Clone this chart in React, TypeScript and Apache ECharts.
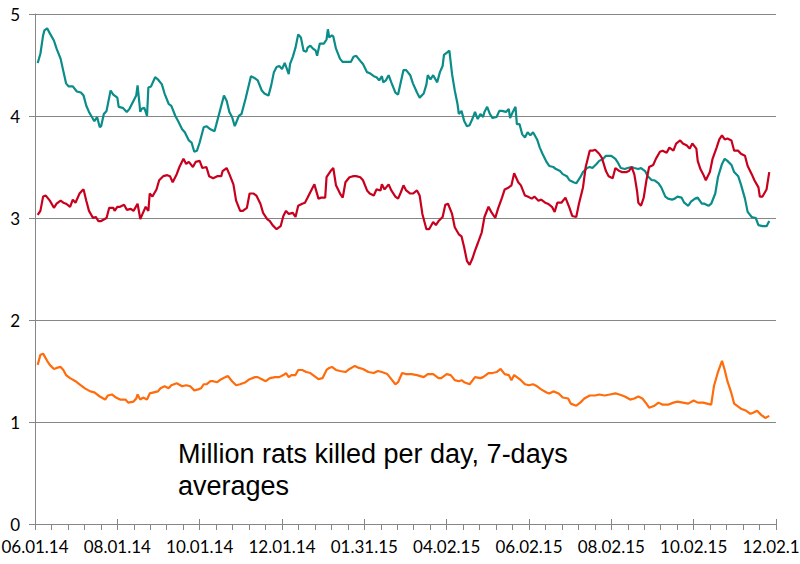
import React, { useEffect, useRef } from 'react';
import * as echarts from 'echarts';

// x axis: days since 06.01.14, labels every 61 days
const xTickLabels = ['06.01.14', '08.01.14', '10.01.14', '12.01.14', '01.31.15', '04.02.15', '06.02.15', '08.02.15', '10.02.15', '12.02.15'];
const tickStep = 61;
const annotationLines = ['Million rats killed per day, 7-days', 'averages'];

// [day, value]
const teal: [number, number][] = [
  [2,4.52],[4,4.61],[6,4.79],[7,4.84],[9,4.86],[11,4.81],[14,4.74],[16,4.66],[19,4.56],[21,4.44],[23,4.32],[25,4.29],[28,4.29],[31,4.24],[34,4.23],[36,4.20],[38,4.10],[40,4.04],[43,3.97],[44,3.95],[46,3.99],[48,3.89],[49,3.90],[51,4.02],[53,4.05],[56,4.25],[58,4.21],[61,4.18],[62,4.09],[65,4.08],[68,4.04],[70,4.07],[73,4.15],[75,4.20],[76,4.30],[78,4.04],[79,4.07],[81,4.08],[83,4.00],[84,4.28],[86,4.29],[89,4.38],[91,4.36],[94,4.31],[96,4.22],[99,4.12],[101,4.10],[104,4.00],[106,3.95],[109,3.87],[111,3.84],[114,3.76],[116,3.74],[118,3.65],[120,3.66],[122,3.74],[125,3.89],[127,3.90],[130,3.87],[133,3.85],[135,3.95],[138,4.10],[140,4.20],[142,4.15],[144,4.04],[146,3.99],[148,3.90],[151,4.00],[153,4.02],[156,4.17],[158,4.28],[160,4.39],[163,4.37],[165,4.35],[168,4.25],[170,4.22],[173,4.20],[175,4.30],[177,4.43],[179,4.48],[181,4.49],[183,4.46],[185,4.52],[188,4.41],[189,4.51],[191,4.58],[193,4.67],[195,4.80],[197,4.77],[199,4.64],[201,4.63],[202,4.67],[204,4.69],[206,4.66],[208,4.64],[209,4.59],[211,4.71],[214,4.71],[216,4.75],[217,4.85],[218,4.77],[220,4.79],[221,4.78],[223,4.66],[226,4.56],[228,4.53],[231,4.53],[234,4.53],[236,4.58],[238,4.59],[241,4.54],[243,4.51],[246,4.43],[248,4.42],[251,4.39],[253,4.38],[255,4.35],[257,4.39],[258,4.33],[260,4.35],[262,4.40],[264,4.33],[267,4.23],[269,4.21],[271,4.33],[273,4.45],[275,4.45],[278,4.40],[280,4.32],[283,4.23],[285,4.18],[288,4.22],[290,4.31],[291,4.40],[293,4.36],[295,4.40],[298,4.33],[300,4.43],[302,4.49],[303,4.60],[305,4.62],[307,4.64],[309,4.41],[311,4.25],[313,4.12],[314,4.02],[316,4.05],[318,3.95],[320,3.90],[322,3.91],[324,3.97],[326,4.04],[328,3.97],[330,4.02],[332,3.99],[333,4.04],[335,4.09],[337,4.02],[339,3.98],[342,3.99],[344,4.05],[346,4.05],[349,4.04],[351,4.07],[352,3.98],[354,4.04],[356,4.09],[357,3.92],[359,3.92],[361,3.82],[363,3.79],[365,3.84],[367,3.81],[369,3.84],[372,3.77],[374,3.69],[376,3.63],[379,3.55],[381,3.51],[384,3.50],[386,3.48],[389,3.46],[391,3.43],[394,3.41],[396,3.37],[399,3.35],[401,3.34],[404,3.40],[406,3.45],[409,3.49],[411,3.50],[413,3.49],[416,3.53],[418,3.56],[421,3.58],[423,3.61],[427,3.61],[430,3.58],[432,3.54],[434,3.49],[437,3.48],[439,3.49],[442,3.50],[444,3.49],[447,3.48],[449,3.49],[452,3.46],[454,3.41],[457,3.37],[459,3.37],[462,3.34],[464,3.30],[467,3.21],[469,3.19],[472,3.18],[474,3.19],[476,3.21],[479,3.20],[481,3.15],[484,3.12],[486,3.16],[489,3.19],[491,3.20],[494,3.14],[496,3.14],[499,3.12],[501,3.14],[504,3.24],[506,3.40],[509,3.53],[511,3.58],[513,3.56],[516,3.52],[518,3.45],[521,3.41],[523,3.33],[526,3.19],[528,3.06],[531,3.01],[534,3.00],[536,2.93],[539,2.92],[542,2.92],[544,2.97]
];

const red: [number, number][] = [
  [2,3.03],[4,3.07],[6,3.21],[8,3.22],[11,3.17],[14,3.10],[16,3.14],[19,3.17],[21,3.15],[23,3.14],[26,3.11],[28,3.18],[30,3.15],[33,3.24],[35,3.27],[36,3.28],[38,3.17],[40,3.07],[43,3.00],[45,3.01],[47,2.97],[49,2.97],[53,3.00],[55,3.10],[58,3.10],[59,3.07],[61,3.11],[63,3.11],[66,3.13],[68,3.08],[71,3.09],[73,3.07],[76,3.14],[78,2.99],[80,3.05],[82,3.11],[84,3.07],[85,3.24],[87,3.21],[90,3.28],[92,3.37],[95,3.41],[98,3.42],[100,3.41],[102,3.35],[105,3.43],[107,3.50],[110,3.58],[112,3.53],[114,3.55],[117,3.50],[119,3.55],[122,3.56],[124,3.49],[127,3.50],[129,3.41],[132,3.39],[135,3.41],[138,3.41],[139,3.46],[142,3.49],[144,3.43],[147,3.33],[149,3.17],[152,3.07],[154,3.07],[157,3.10],[159,3.24],[162,3.24],[164,3.22],[167,3.14],[169,3.05],[172,2.99],[174,2.97],[176,2.93],[179,2.89],[182,2.92],[184,3.02],[186,3.07],[188,3.04],[191,3.05],[193,3.01],[195,3.12],[198,3.14],[200,3.15],[202,3.20],[205,3.28],[207,3.33],[210,3.19],[212,3.20],[215,3.20],[216,3.40],[219,3.46],[221,3.49],[223,3.32],[226,3.24],[228,3.20],[230,3.35],[233,3.40],[236,3.41],[238,3.41],[241,3.40],[243,3.37],[246,3.27],[248,3.24],[251,3.22],[253,3.28],[256,3.27],[257,3.33],[259,3.28],[262,3.33],[264,3.27],[267,3.21],[269,3.19],[271,3.25],[273,3.32],[275,3.27],[278,3.24],[280,3.24],[283,3.27],[285,3.22],[287,3.04],[290,2.89],[292,2.89],[295,2.96],[297,2.93],[299,2.97],[302,3.01],[304,3.13],[306,3.14],[309,3.04],[311,2.91],[314,2.84],[316,2.82],[318,2.71],[320,2.58],[322,2.54],[324,2.60],[326,2.68],[328,2.75],[331,2.86],[333,3.01],[336,3.11],[338,3.06],[341,3.00],[343,3.09],[346,3.20],[348,3.28],[351,3.30],[353,3.32],[355,3.44],[358,3.35],[360,3.32],[363,3.22],[365,3.21],[368,3.19],[370,3.21],[373,3.17],[375,3.18],[378,3.15],[380,3.14],[383,3.11],[385,3.06],[387,3.15],[390,3.15],[393,3.20],[396,3.10],[398,3.02],[401,3.01],[403,3.14],[406,3.30],[408,3.50],[411,3.66],[413,3.66],[415,3.67],[418,3.63],[420,3.59],[423,3.46],[425,3.41],[428,3.39],[430,3.49],[433,3.46],[435,3.45],[438,3.45],[440,3.46],[442,3.50],[444,3.43],[446,3.27],[447,3.15],[449,3.12],[451,3.20],[453,3.37],[455,3.50],[458,3.52],[460,3.58],[463,3.65],[465,3.66],[468,3.64],[470,3.69],[473,3.66],[475,3.73],[478,3.76],[480,3.73],[483,3.71],[485,3.68],[487,3.73],[490,3.68],[491,3.56],[493,3.48],[495,3.43],[497,3.37],[500,3.45],[502,3.58],[505,3.69],[507,3.77],[509,3.81],[511,3.77],[513,3.78],[516,3.76],[518,3.66],[521,3.66],[523,3.63],[526,3.61],[528,3.51],[531,3.43],[533,3.37],[536,3.30],[537,3.21],[539,3.21],[542,3.28],[544,3.45]
];

const orange: [number, number][] = [
  [2,1.56],[4,1.66],[6,1.67],[9,1.60],[11,1.56],[14,1.52],[16,1.53],[19,1.54],[21,1.51],[23,1.46],[26,1.43],[30,1.40],[33,1.37],[37,1.33],[41,1.30],[44,1.29],[48,1.25],[52,1.22],[54,1.26],[57,1.27],[60,1.24],[63,1.22],[67,1.22],[69,1.19],[73,1.20],[75,1.23],[76,1.27],[78,1.22],[80,1.24],[83,1.22],[85,1.28],[88,1.29],[91,1.30],[93,1.33],[96,1.35],[99,1.33],[101,1.36],[105,1.38],[109,1.35],[112,1.36],[115,1.35],[118,1.31],[121,1.32],[123,1.33],[125,1.37],[127,1.37],[130,1.40],[132,1.40],[135,1.39],[138,1.42],[141,1.44],[143,1.45],[146,1.40],[149,1.36],[152,1.37],[156,1.39],[159,1.42],[163,1.44],[165,1.44],[168,1.42],[171,1.40],[174,1.43],[178,1.44],[181,1.44],[184,1.46],[186,1.48],[188,1.44],[190,1.46],[193,1.46],[195,1.51],[198,1.51],[201,1.49],[204,1.48],[207,1.45],[210,1.42],[213,1.43],[216,1.51],[218,1.53],[220,1.54],[223,1.51],[226,1.50],[230,1.49],[233,1.52],[237,1.55],[240,1.53],[243,1.52],[247,1.49],[251,1.48],[254,1.50],[257,1.49],[261,1.47],[264,1.42],[267,1.37],[269,1.39],[272,1.48],[275,1.47],[279,1.47],[283,1.46],[288,1.44],[291,1.47],[295,1.47],[299,1.43],[301,1.43],[305,1.47],[308,1.46],[311,1.41],[314,1.40],[316,1.41],[318,1.39],[322,1.37],[326,1.44],[330,1.43],[332,1.44],[336,1.48],[339,1.48],[342,1.49],[345,1.52],[348,1.47],[351,1.46],[353,1.41],[355,1.46],[358,1.43],[360,1.41],[363,1.37],[366,1.36],[369,1.37],[372,1.35],[375,1.32],[379,1.29],[381,1.28],[384,1.30],[388,1.28],[391,1.24],[395,1.23],[397,1.18],[401,1.16],[404,1.19],[407,1.23],[411,1.26],[415,1.26],[418,1.27],[422,1.26],[426,1.27],[430,1.28],[433,1.27],[437,1.25],[441,1.22],[444,1.23],[447,1.25],[450,1.23],[453,1.18],[455,1.14],[459,1.16],[462,1.19],[465,1.17],[469,1.17],[473,1.19],[476,1.20],[480,1.19],[484,1.18],[488,1.21],[491,1.19],[495,1.19],[498,1.18],[501,1.17],[503,1.35],[506,1.49],[509,1.60],[511,1.51],[513,1.40],[516,1.28],[518,1.18],[521,1.15],[523,1.13],[527,1.11],[530,1.08],[532,1.09],[535,1.11],[538,1.07],[541,1.04],[544,1.06]
];

const gridColor = '#868686';
const labelFont = 'Lato';

export default function App() {
  const ref = useRef<HTMLDivElement>(null);
  useEffect(() => {
    const chart = echarts.init(ref.current!, null, { renderer: 'svg' });
    const xMax = tickStep * (xTickLabels.length - 1);
    const baseX = {
      type: 'value',
      min: 0,
      max: xMax,
      interval: tickStep,
      position: 'bottom',
    };
    const line = (data: [number, number][], color: string) => ({
      type: 'line',
      data,
      showSymbol: false,
      symbol: 'none',
      smooth: false,
      lineStyle: { color, width: 2.2 },
      itemStyle: { color },
      z: 3,
    });
    chart.setOption({
      animation: false,
      backgroundColor: '#ffffff',
      grid: { left: 35, right: 24, top: 14, bottom: 40, containLabel: false, outerBoundsMode: 'none' },
      xAxis: [
        {
          ...baseX,
          axisLine: { show: true, lineStyle: { color: gridColor, width: 1 } },
          axisTick: { show: true, length: 6, lineStyle: { color: gridColor } },
          minorTick: { show: true, splitNumber: 5, length: 6, lineStyle: { color: gridColor } },
          splitLine: { show: false },
          axisLabel: {
            show: true,
            margin: 14,
            color: '#000',
            fontSize: 17,
            fontFamily: labelFont,
            formatter: (v: number) => xTickLabels[Math.round(v / tickStep)] ?? '',
          },
        },
        {
          ...baseX,
          axisLine: { show: false },
          axisTick: { show: true, inside: true, length: 5, lineStyle: { color: gridColor } },
          axisLabel: { show: false },
          splitLine: { show: false },
        },
      ],
      yAxis: {
        type: 'value',
        min: 0,
        max: 5,
        interval: 1,
        axisLine: { show: true, lineStyle: { color: gridColor, width: 1 } },
        axisTick: { show: true, length: 6, lineStyle: { color: gridColor } },
        splitLine: { show: true, lineStyle: { color: gridColor, width: 1 } },
        axisLabel: { margin: 15, color: '#000', fontSize: 17, fontFamily: labelFont },
      },
      graphic: [
        {
          type: 'text',
          left: 178,
          top: 438,
          style: {
            text: annotationLines.join('\n'),
            fontSize: 27,
            fontFamily: 'Liberation Sans',
            lineHeight: 32,
            fill: '#000',
          },
        },
      ],
      series: [
        line(teal, '#0A8C88'),
        line(red, '#C8001E'),
        line(orange, '#FF6C0C'),
      ],
    });
    return () => chart.dispose();
  }, []);
  return (
    <div
      ref={ref}
      style={{ position: 'fixed', left: 0, top: 0, width: 800, height: 564, background: '#fff' }}
    />
  );
}
